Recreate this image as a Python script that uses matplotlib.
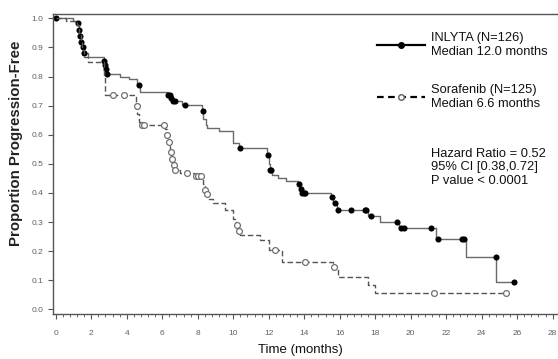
import numpy as np
import matplotlib
matplotlib.use('Agg')
import matplotlib.pyplot as plt
from matplotlib.ticker import MultipleLocator, AutoMinorLocator
from matplotlib.lines import Line2D

plt.rcParams['font.family'] = ['Liberation Sans Narrow', 'Liberation Sans', 'DejaVu Sans']

# INLYTA: event times (months) and proportion progression-free after each step
inlyta_t = [0, 0.95, 1.15, 1.3, 1.36, 1.43, 1.5, 1.6, 1.8, 2.7, 2.75, 2.8, 2.86, 3.6, 4.1,
            4.6, 4.72, 6.3, 6.45, 6.62, 7.1, 8.22, 8.3, 8.45, 8.55, 9.2, 10.0, 10.35,
            11.93, 12.03, 12.1, 12.2, 12.55, 13.0, 13.65, 13.75, 13.85, 15.5, 15.65,
            15.85, 17.6, 18.25, 19.35, 21.45, 23.1, 24.8]
inlyta_s = [1.0, 0.992, 0.984, 0.96, 0.94, 0.92, 0.90, 0.88, 0.868, 0.855, 0.84, 0.825, 0.81,
            0.80, 0.79, 0.77, 0.748, 0.738, 0.728, 0.716, 0.703, 0.68, 0.655, 0.635, 0.622,
            0.612, 0.57, 0.553, 0.53, 0.50, 0.478, 0.462, 0.452, 0.44, 0.43, 0.415, 0.40,
            0.387, 0.365, 0.34, 0.32, 0.30, 0.278, 0.242, 0.181, 0.093]
inlyta_end = 25.8
inlyta_cens = [0, 1.27, 1.32, 1.38, 1.45, 1.52, 1.62, 2.72, 2.77, 2.82, 2.88, 4.68, 6.3,
               6.42, 6.52, 6.62, 6.72, 7.3, 8.27, 10.41, 11.96, 12.1, 12.15, 13.7, 13.8,
               13.9, 14.0, 14.05, 15.54, 15.73, 15.92, 16.63, 17.41, 17.5, 17.75, 19.22,
               19.43, 19.6, 21.15, 21.52, 22.9, 23.0, 24.78, 25.8]

# Sorafenib
sora_t = [0, 0.6, 1.2, 1.3, 1.4, 1.5, 1.6, 1.8, 2.7, 2.75, 2.8, 4.5, 4.6, 4.7, 4.8, 6.15,
          6.25, 6.35, 6.45, 6.5, 6.6, 6.7, 7.0, 7.8, 8.2, 8.3, 8.4, 8.5, 8.6, 8.85, 9.55,
          10.0, 10.15, 10.3, 10.4, 11.5, 12.0, 12.75, 15.65, 15.9, 17.6, 18.0]
sora_s = [1.0, 0.992, 0.976, 0.95, 0.92, 0.89, 0.868, 0.851, 0.80, 0.76, 0.736, 0.70, 0.672,
          0.645, 0.633, 0.62, 0.60, 0.575, 0.54, 0.515, 0.495, 0.478, 0.468, 0.46, 0.45,
          0.43, 0.41, 0.395, 0.378, 0.365, 0.34, 0.31, 0.29, 0.27, 0.255, 0.24, 0.205,
          0.164, 0.145, 0.112, 0.085, 0.057]
sora_end = 25.36
sora_cens = [3.22, 3.82, 4.57, 4.87, 5.0, 6.08, 6.27, 6.37, 6.48, 6.55, 6.65, 6.72, 7.37,
             7.9, 8.0, 8.17, 8.42, 8.53, 10.2, 10.32, 12.33, 14.05, 15.69, 21.33, 25.36]

legend_labels = ['INLYTA (N=126)\nMedian 12.0 months', 'Sorafenib (N=125)\nMedian 6.6 months']
stats_text = 'Hazard Ratio = 0.52\n95% CI [0.38,0.72]\nP value < 0.0001'


def km_at(times, surv, t):
    # value of the step function just after t
    idx = np.searchsorted(times, t, side='right') - 1
    return np.asarray(surv)[idx]


fig = plt.figure(figsize=(5.58, 3.59), dpi=100)
ax = fig.add_axes([0.0945, 0.1253, 0.9055, 0.8357])

# INLYTA curve
x = list(inlyta_t) + [inlyta_end]
y = list(inlyta_s) + [inlyta_s[-1]]
ax.step(x, y, where='post', color='#6a6a6a', lw=1.0)
ax.plot(inlyta_cens, km_at(inlyta_t, inlyta_s, inlyta_cens), 'o', color='black', ms=4.4, mew=0)

# Sorafenib curve
x = list(sora_t) + [sora_end]
y = list(sora_s) + [sora_s[-1]]
ax.step(x, y, where='post', color='#555555', lw=1.0, ls=(0, (4, 2)))
ax.plot(sora_cens, km_at(sora_t, sora_s, sora_cens), 'o', mfc='white', mec='#707070',
        ms=4.2, mew=0.9)

ax.set_xlim(-0.17, 28.3)
ax.set_ylim(-0.016, 1.015)
ax.xaxis.set_major_locator(MultipleLocator(2))
ax.xaxis.set_minor_locator(AutoMinorLocator(5))
ax.yaxis.set_major_locator(MultipleLocator(0.1))
ax.yaxis.set_major_formatter(plt.FuncFormatter(lambda v, p: f'{v:.1f}'))
ax.tick_params(axis='both', which='major', length=3.5, width=0.8, color='#555555',
               labelsize=6, labelcolor='#606060')
ax.tick_params(axis='x', which='major', pad=8)
ax.tick_params(axis='x', which='minor', length=2, width=0.6, color='#555555')
ax.spines['right'].set_visible(False)
for s in ['left', 'bottom', 'top']:
    ax.spines[s].set_color('#555555')
    ax.spines[s].set_linewidth(1.0)

fig.text(0.538, 0.026, 'Time (months)', fontsize=9.5, ha='center', va='center',
         color='#111111')
fig.text(0.028, 0.60, 'Proportion Progression-Free', rotation=90, fontsize=10.8,
         fontweight='bold', family=['Liberation Sans', 'DejaVu Sans'],
         ha='center', va='center', color='#222222')

# legend drawn by hand
h1 = Line2D([0.676, 0.762], [0.8745, 0.8745], transform=fig.transFigure, color='black',
            lw=1.6, marker=None)
d1 = Line2D([0.719], [0.8745], transform=fig.transFigure, marker='o', color='black', ms=4)
h2 = Line2D([0.676, 0.762], [0.7298, 0.7298], transform=fig.transFigure, color='black',
            lw=1.6, ls=(0, (3, 2)))
d2 = Line2D([0.719], [0.7298], transform=fig.transFigure, marker='o', mfc='white',
            mec='#606060', ms=4)
for art in (h1, h2, d1, d2):
    fig.add_artist(art)
fig.text(0.773, 0.8745, legend_labels[0], fontsize=9.3, va='center', ha='left',
         linespacing=1.15, color='#111111')
fig.text(0.773, 0.7298, legend_labels[1], fontsize=9.3, va='center', ha='left',
         linespacing=1.15, color='#111111')
fig.text(0.773, 0.5335, stats_text, fontsize=9.3, va='center', ha='left',
         linespacing=1.2, color='#111111')

fig.savefig('out.png', dpi=100)
